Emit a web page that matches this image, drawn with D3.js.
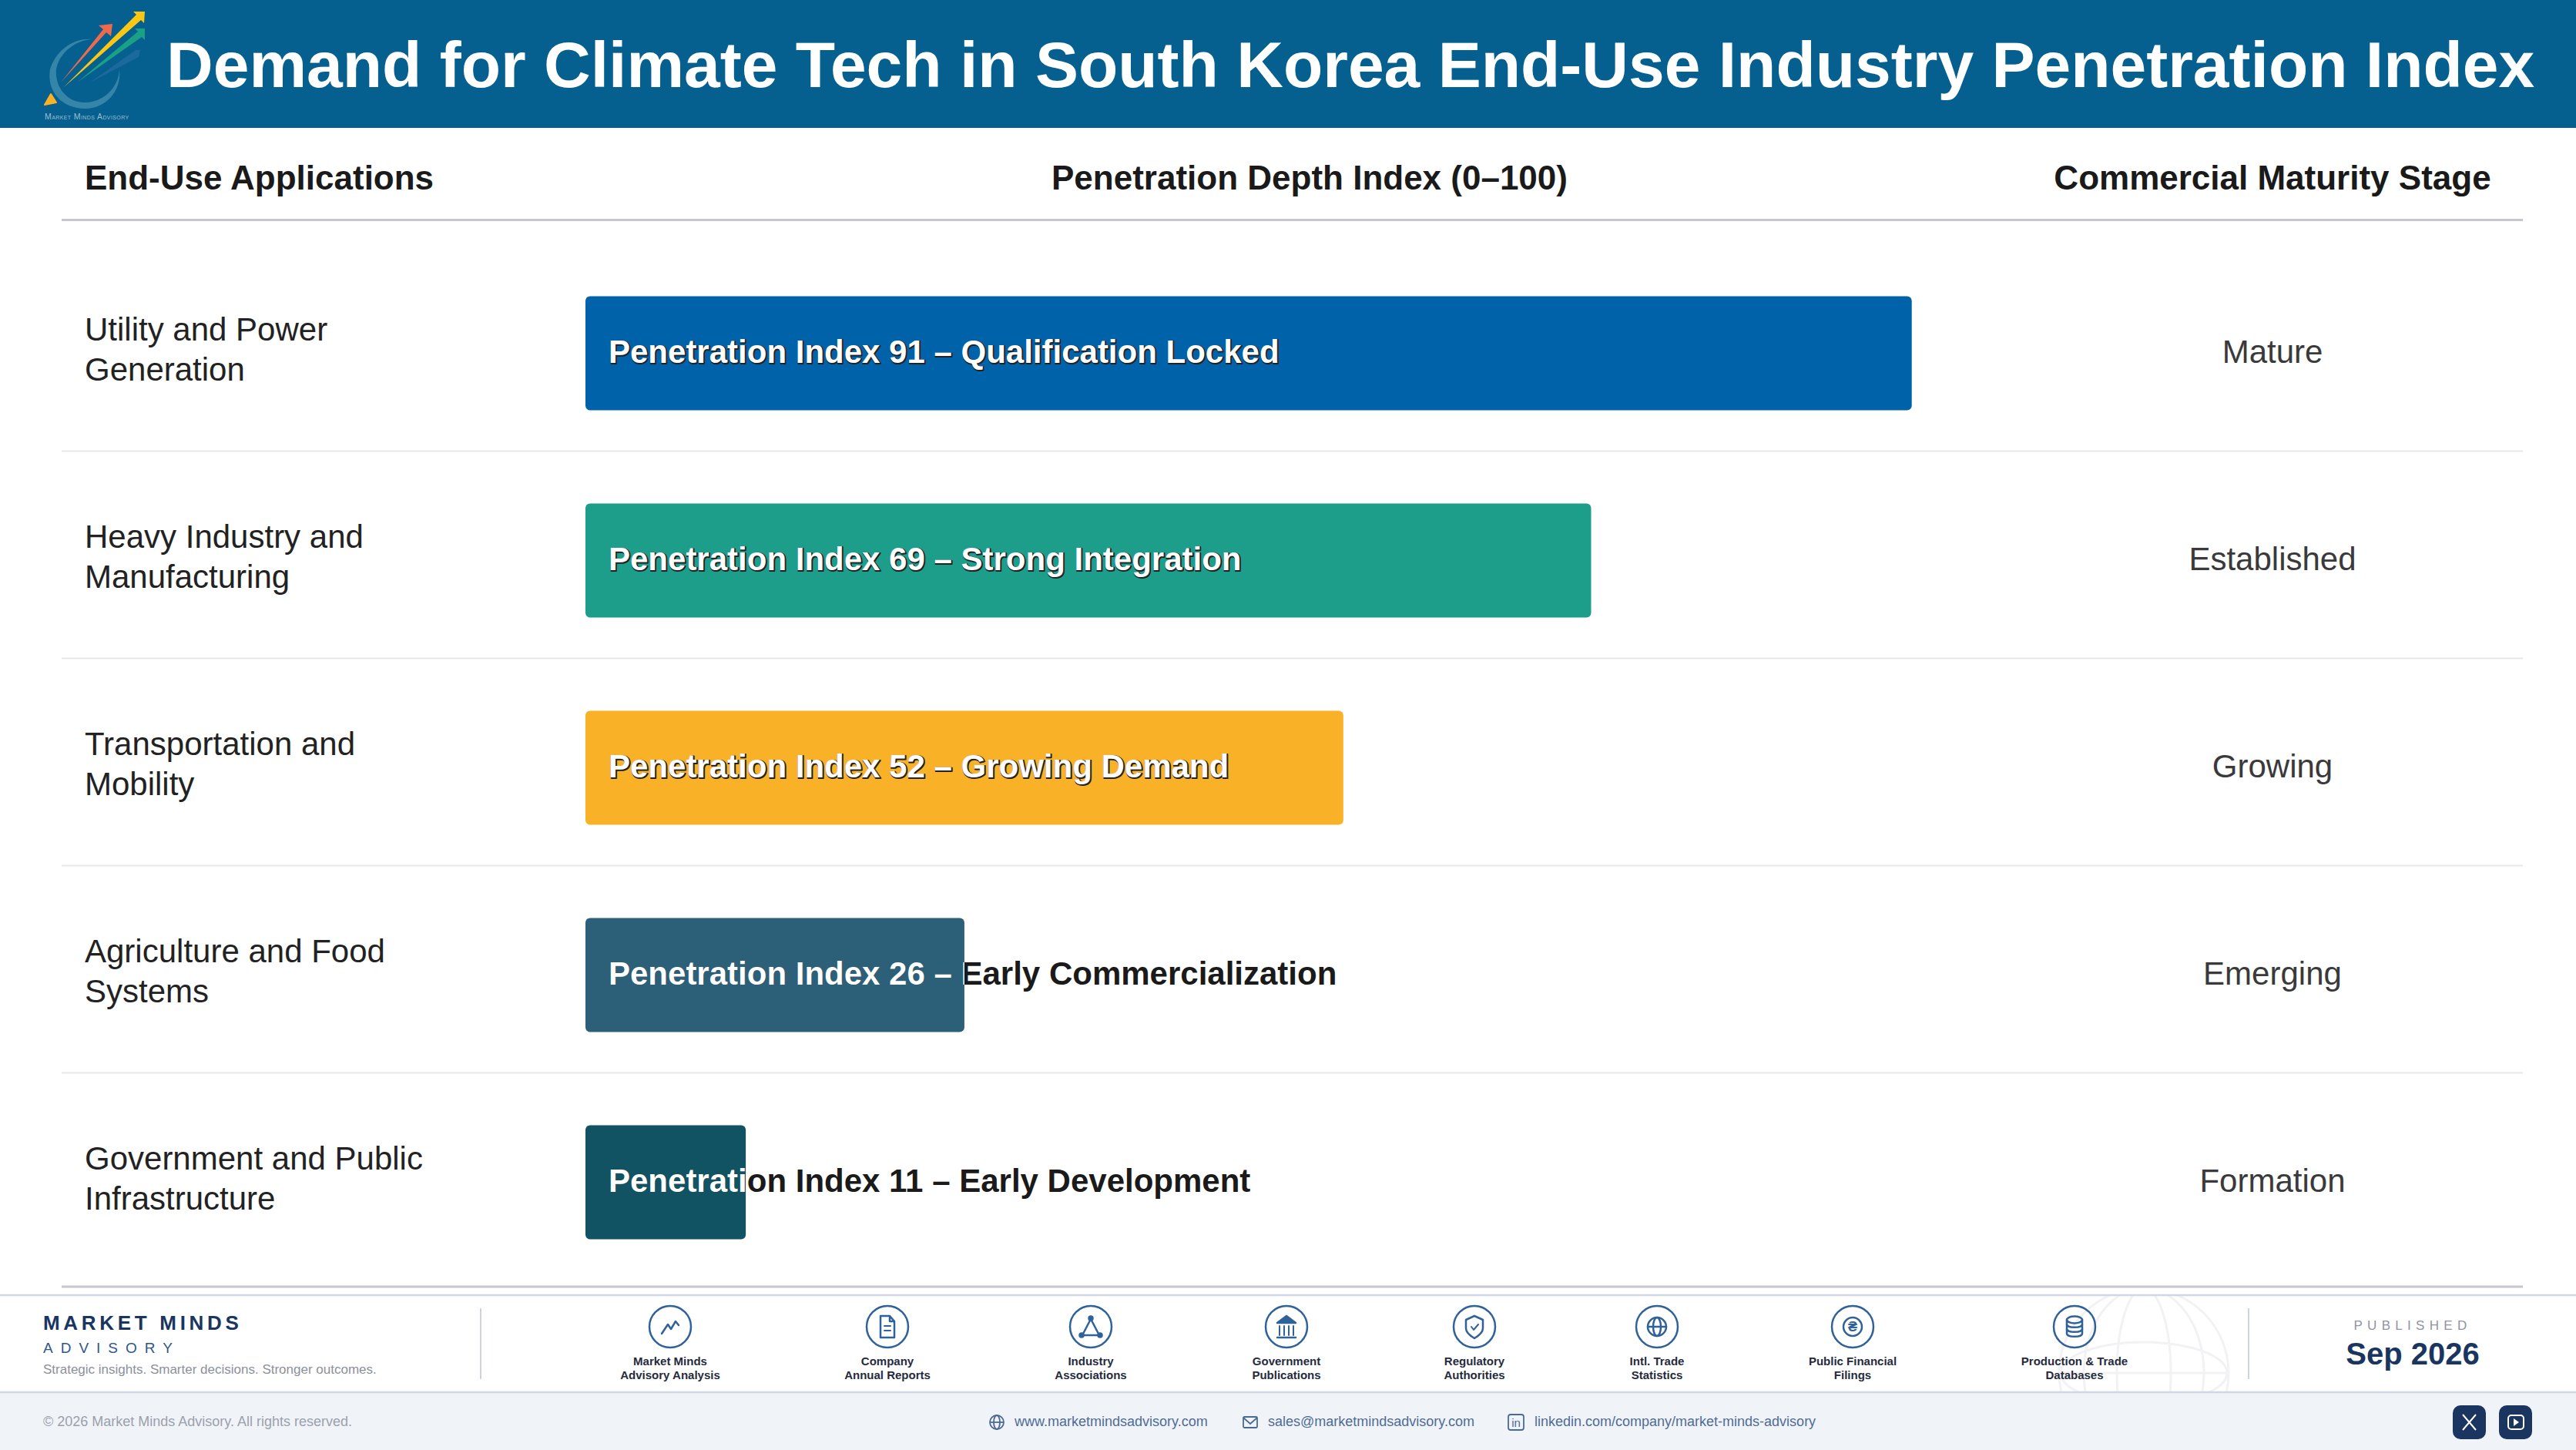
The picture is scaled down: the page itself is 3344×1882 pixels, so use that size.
<!DOCTYPE html>
<html>
<head>
<meta charset="utf-8">
<title>Demand for Climate Tech in South Korea</title>
<script src="https://cdn.jsdelivr.net/npm/d3@7"></script>
<style>
  html, body { margin: 0; padding: 0; background: #fff; }
  svg { display: block; }
  text { font-family: "Liberation Sans", Arial, sans-serif; }
</style>
</head>
<body>
<div id="chart"></div>
<script>
  'use strict';

  var chartTitle = 'Demand for Climate Tech in South Korea End-Use Industry Penetration Index';
  var columnHeads = ['End-Use Applications', 'Penetration Depth Index (0–100)', 'Commercial Maturity Stage'];

  var categories = [
    'Utility and Power Generation',
    'Heavy Industry and Manufacturing',
    'Transportation and Mobility',
    'Agriculture and Food Systems',
    'Government and Public Infrastructure'
  ];
  var indexValues = [91, 69, 52, 26, 11];
  var statusLabels = ['Qualification Locked', 'Strong Integration', 'Growing Demand', 'Early Commercialization', 'Early Development'];
  var stages = ['Mature', 'Established', 'Growing', 'Emerging', 'Formation'];

  var sources = [
    'Market Minds|Advisory Analysis',
    'Company|Annual Reports',
    'Industry|Associations',
    'Government|Publications',
    'Regulatory|Authorities',
    'Intl. Trade|Statistics',
    'Public Financial|Filings',
    'Production & Trade|Databases'
  ];
  var sourceIcons = ['trend', 'doc', 'network', 'bank', 'shield', 'globe', 'coin', 'db'];

  var width = 3344;
  var height = 1882;
  var navy = '#1a3560';
  var iconBlue = '#2f6298';

  var svg = d3.select('#chart').append('svg')
    .attr('width', width)
    .attr('height', height)
    .attr('viewBox', [0, 0, width, height]);

  var defs = svg.append('defs');

  // header band
  svg.append('rect').attr('width', width).attr('height', 166).attr('fill', '#05608f');
  svg.append('text')
    .attr('x', 216).attr('y', 113)
    .attr('font-size', 84).attr('font-weight', 700).attr('fill', '#fff')
    .text(chartTitle);

  drawLogo(svg.append('g'));

  // column heads
  var headX = [110, 1700, 2950];
  svg.append('g').selectAll('text').data(columnHeads).join('text')
    .attr('x', function (d, i) { return headX[i]; })
    .attr('y', 246)
    .attr('text-anchor', function (d, i) { return i ? 'middle' : 'start'; })
    .attr('font-size', 44).attr('font-weight', 700).attr('fill', '#1a1a1a')
    .text(function (d) { return d; });
  svg.append('line').attr('x1', 80).attr('x2', 3275).attr('y1', 285.5).attr('y2', 285.5)
    .attr('stroke', '#c6c6ce').attr('stroke-width', 3);

  // rows
  var x = d3.scaleLinear().domain([0, 100]).range([760, 2652]);
  var y = d3.scaleBand().domain(categories).range([324, 1669]).paddingInner(0.45).paddingOuter(0.225);
  var barFill = d3.scaleOrdinal().domain(categories).range(['#0063a9', '#1c9e8a', '#f9b128', '#2c5f78', '#115263']);

  var rowData = categories.map(function (c, i) {
    return { category: c, value: indexValues[i], status: statusLabels[i], stage: stages[i] };
  });

  svg.append('g').selectAll('line').data(categories.slice(0, -1)).join('line')
    .attr('x1', 80).attr('x2', 3275)
    .attr('y1', function (d) { return y(d) + y.bandwidth() + 53; })
    .attr('y2', function (d) { return y(d) + y.bandwidth() + 53; })
    .attr('stroke', '#e8e8ea').attr('stroke-width', 2);
  svg.append('line').attr('x1', 80).attr('x2', 3275).attr('y1', 1670).attr('y2', 1670)
    .attr('stroke', '#c6c6ce').attr('stroke-width', 3);

  var row = svg.append('g').selectAll('g').data(rowData).join('g');

  // category label, wrapped on width
  row.append('text')
    .attr('x', 110)
    .attr('y', function (d) { return y(d.category) + y.bandwidth() / 2 - 17; })
    .attr('font-size', 42).attr('fill', '#222')
    .each(function (d) { wrap(d3.select(this), d.category, 480, 52); });

  row.append('text')
    .attr('x', 2950)
    .attr('y', function (d) { return y(d.category) + y.bandwidth() / 2 + 12; })
    .attr('text-anchor', 'middle')
    .attr('font-size', 42).attr('fill', '#3a3a3a')
    .text(function (d) { return d.stage; });

  row.append('rect')
    .attr('x', x(0))
    .attr('y', function (d) { return y(d.category); })
    .attr('width', function (d) { return x(d.value) - x(0); })
    .attr('height', y.bandwidth())
    .attr('rx', 6)
    .attr('fill', function (d) { return barFill(d.category); });

  defs.selectAll('clipPath').data(rowData).join('clipPath')
    .attr('id', function (d, i) { return 'bar-clip-' + i; })
    .append('rect')
    .attr('x', x(0))
    .attr('y', function (d) { return y(d.category); })
    .attr('width', function (d) { return x(d.value) - x(0); })
    .attr('height', y.bandwidth());

  function barLabel(d) { return 'Penetration Index ' + d.value + ' – ' + d.status; }

  // dark copy underneath, white copy clipped to the bar
  var under = row.append('text')
    .attr('x', 790)
    .attr('y', function (d) { return y(d.category) + y.bandwidth() / 2 + 12; })
    .attr('font-size', 42).attr('font-weight', 700).attr('fill', '#1a1a1a')
    .text(barLabel);

  under.each(function (d) {
    d.fits = 30 + this.getComputedTextLength() < x(d.value) - x(0);
  });
  under.filter(function (d) { return d.fits; })
    .attr('transform', 'translate(1,1)')
    .attr('stroke', '#222').attr('stroke-width', 2).attr('stroke-linejoin', 'round');

  row.append('text')
    .attr('x', 790)
    .attr('y', function (d) { return y(d.category) + y.bandwidth() / 2 + 12; })
    .attr('font-size', 42).attr('font-weight', 700).attr('fill', '#fff')
    .attr('clip-path', function (d, i) { return 'url(#bar-clip-' + i + ')'; })
    .text(barLabel);

  drawFooter();

  function wrap(text, value, maxWidth, lineHeight) {
    var words = value.split(' ');
    var line = [];
    var tspan = text.append('tspan').attr('x', 110).attr('dy', 0);
    words.forEach(function (w) {
      line.push(w);
      tspan.text(line.join(' '));
      if (tspan.node().getComputedTextLength() > maxWidth && line.length > 1) {
        line.pop();
        tspan.text(line.join(' '));
        line = [w];
        tspan = text.append('tspan').attr('x', 110).attr('dy', lineHeight).text(w);
      }
    });
  }

  function drawLogo(g) {
    g.append('path')
      .attr('d', 'M120,51 C96,48 72,66 65,90 C60,120 82,141 110,141 C138,141 158,118 155,90 C154,114 134,133 110,133 C86,133 71,112 73,90 C77,68 98,52 120,51 Z')
      .attr('fill', '#3585a8');
    g.append('path').attr('d', 'M58,136 L66,122 L73,133 Z').attr('fill', '#f9b128').attr('stroke', '#f9b128').attr('stroke-width', 2).attr('stroke-linejoin', 'round');
    g.append('path').attr('d', 'M117,107 L176,65 L182,65 L180,74 Z').attr('fill', '#1a6b9c');
    g.append('path').attr('d', 'M100,107 L179,41 L175,37 L188,37 L188,52 L184,48 Z').attr('fill', '#1aa085');
    g.append('path').attr('d', 'M83,113 L177,19 L173,15 L188,15 L187,30 L183,26 Z').attr('fill', '#fbc715');
    g.append('path').attr('d', 'M79,107 L134,38 L128,33 L146,31 L144,47 L138,42 Z').attr('fill', '#ef6a4c');
    g.append('text').attr('x', 58).attr('y', 155)
      .attr('font-size', 10.5).attr('fill', '#9dbdd0').attr('letter-spacing', 0.4)
      .style('font-variant', 'small-caps')
      .text('Market Minds Advisory');
  }

  function drawFooter() {
    // watermark globe, clipped to the strip
    defs.append('clipPath').attr('id', 'strip-clip').append('rect')
      .attr('x', 0).attr('y', 1682).attr('width', width).attr('height', 124);
    var globe = svg.append('g').attr('clip-path', 'url(#strip-clip)')
      .attr('fill', 'none').attr('stroke', '#f2f2f4').attr('stroke-width', 3);
    globe.append('circle').attr('cx', 2783).attr('cy', 1782).attr('r', 110);
    [35, 78].forEach(function (rx) {
      globe.append('ellipse').attr('cx', 2783).attr('cy', 1782).attr('rx', rx).attr('ry', 110);
    });
    globe.append('ellipse').attr('cx', 2783).attr('cy', 1782).attr('rx', 108).attr('ry', 40);
    globe.append('line').attr('x1', 2673).attr('x2', 2893).attr('y1', 1782).attr('y2', 1782);

    svg.append('rect').attr('y', 1807).attr('width', width).attr('height', 75).attr('fill', '#f0f4f9');
    [1681, 1807].forEach(function (yy) {
      svg.append('line').attr('x1', 0).attr('x2', width).attr('y1', yy).attr('y2', yy)
        .attr('stroke', '#d2d5e4').attr('stroke-width', 2.5);
    });
    [624, 2919].forEach(function (xx) {
      svg.append('line').attr('x1', xx).attr('x2', xx).attr('y1', 1698).attr('y2', 1790)
        .attr('stroke', '#cfd3de').attr('stroke-width', 2);
    });

    svg.append('text').attr('x', 56).attr('y', 1726)
      .attr('font-size', 26).attr('font-weight', 700).attr('letter-spacing', 4.7).attr('fill', navy)
      .text('MARKET MINDS');
    svg.append('text').attr('x', 56).attr('y', 1756)
      .attr('font-size', 19).attr('letter-spacing', 10).attr('fill', '#2f5688')
      .text('ADVISORY');
    svg.append('text').attr('x', 56).attr('y', 1783)
      .attr('font-size', 17).attr('fill', '#8b909b')
      .text('Strategic insights. Smarter decisions. Stronger outcomes.');

    var sourceCx = [870, 1152, 1416, 1670, 1914, 2151, 2405, 2693];
    var item = svg.append('g').selectAll('g').data(sources).join('g')
      .attr('transform', function (d, i) { return 'translate(' + sourceCx[i] + ',1722)'; });
    item.append('circle').attr('r', 27).attr('fill', 'none').attr('stroke', iconBlue).attr('stroke-width', 2.5);
    item.each(function (d, i) { drawIcon(d3.select(this), sourceIcons[i]); });
    item.append('text').attr('text-anchor', 'middle').attr('font-size', 15)
      .attr('font-weight', 700).attr('fill', '#252b3d')
      .selectAll('tspan').data(function (d) { return d.split('|'); }).join('tspan')
      .attr('x', 0).attr('y', function (d, i) { return 50 + i * 18; })
      .text(function (d) { return d; });

    svg.append('text').attr('x', 3132).attr('y', 1726).attr('text-anchor', 'middle')
      .attr('font-size', 17).attr('letter-spacing', 6.3).attr('fill', '#8f93a3').text('PUBLISHED');
    svg.append('text').attr('x', 3132).attr('y', 1771).attr('text-anchor', 'middle')
      .attr('font-size', 40).attr('font-weight', 700).attr('fill', navy).text('Sep 2026');

    svg.append('text').attr('x', 56).attr('y', 1851)
      .attr('font-size', 18).attr('fill', '#9ba1ad')
      .text('© 2026 Market Minds Advisory. All rights reserved.');

    var contacts = [
      { icon: 'web', cx: 1294, tx: 1317, label: 'www.marketmindsadvisory.com' },
      { icon: 'mail', cx: 1623, tx: 1646, label: 'sales@marketmindsadvisory.com' },
      { icon: 'in', cx: 1968, tx: 1992, label: 'linkedin.com/company/market-minds-advisory' }
    ];
    contacts.forEach(function (c) {
      var g = svg.append('g').attr('transform', 'translate(' + c.cx + ',1846)')
        .attr('fill', 'none').attr('stroke', '#4a6a94').attr('stroke-width', 1.8);
      if (c.icon === 'web') {
        g.append('circle').attr('r', 9);
        g.append('ellipse').attr('rx', 4).attr('ry', 9);
        g.append('line').attr('x1', -9).attr('x2', 9);
      } else if (c.icon === 'mail') {
        g.append('rect').attr('x', -9).attr('y', -7).attr('width', 18).attr('height', 14).attr('rx', 1.5);
        g.append('path').attr('d', 'M-9,-6 L0,2 L9,-6');
      } else {
        g.append('rect').attr('x', -10).attr('y', -10).attr('width', 20).attr('height', 20).attr('rx', 3);
        g.append('text').attr('x', 0).attr('y', 6).attr('text-anchor', 'middle')
          .attr('font-size', 15).attr('stroke', 'none').attr('fill', '#4a6a94').text('in');
      }
      svg.append('text').attr('x', c.tx).attr('y', 1851)
        .attr('font-size', 18).attr('fill', '#4f6c96').text(c.label);
    });

    svg.append('rect').attr('x', 3184).attr('y', 1824).attr('width', 43).attr('height', 44).attr('rx', 10).attr('fill', navy);
    svg.append('rect').attr('x', 3244).attr('y', 1824).attr('width', 43).attr('height', 44).attr('rx', 10).attr('fill', navy);
    svg.append('path').attr('d', 'M3197,1836 L3214,1856 M3214,1836 L3197,1856')
      .attr('stroke', '#fff').attr('stroke-width', 2).attr('fill', 'none');
    svg.append('rect').attr('x', 3256).attr('y', 1837).attr('width', 20).attr('height', 18).attr('rx', 4)
      .attr('fill', 'none').attr('stroke', '#fff').attr('stroke-width', 2);
    svg.append('path').attr('d', 'M3263,1841 L3270,1846 L3263,1851 Z').attr('fill', '#fff');
  }

  function drawIcon(g, name) {
    var p = g.append('g').attr('fill', 'none').attr('stroke', iconBlue).attr('stroke-width', 2.5)
      .attr('stroke-linejoin', 'round').attr('stroke-linecap', 'round');
    if (name === 'trend') {
      p.append('path').attr('d', 'M-11,9 L-3,-3 L1,3 L7,-7 L11,-2');
    } else if (name === 'doc') {
      p.append('path').attr('d', 'M-9,-14 L3,-14 L9,-7 L9,14 L-9,14 Z M3,-14 L3,-7 L9,-7');
      p.append('path').attr('d', 'M-4,-1 L4,-1 M-4,5 L4,5').attr('stroke-width', 2);
    } else if (name === 'network') {
      p.append('path').attr('d', 'M0,-10 L-11,11 L11,11 Z');
      p.selectAll('circle').data([[0, -11], [-12, 11], [12, 11]]).join('circle')
        .attr('cx', function (d) { return d[0]; }).attr('cy', function (d) { return d[1]; })
        .attr('r', 2.5).attr('fill', iconBlue);
    } else if (name === 'bank') {
      p.append('path').attr('d', 'M0,-14 L-12,-5 L12,-5 Z').attr('fill', iconBlue);
      p.append('path').attr('d', 'M-9,-1 L-9,11 M-3,-1 L-3,11 M3,-1 L3,11 M9,-1 L9,11').attr('stroke-width', 2);
      p.append('path').attr('d', 'M-12,14 L12,14');
    } else if (name === 'shield') {
      p.append('path').attr('d', 'M0,-14 L11,-9 L11,2 C11,8 5,12 0,15 C-5,12 -11,8 -11,2 L-11,-9 Z');
      p.append('path').attr('d', 'M-4,0 L-1,4 L5,-3').attr('stroke-width', 2);
    } else if (name === 'globe') {
      p.append('circle').attr('r', 12);
      p.append('ellipse').attr('rx', 5).attr('ry', 12);
      p.append('line').attr('x1', -12).attr('x2', 12);
    } else if (name === 'coin') {
      p.append('circle').attr('r', 12);
      p.append('text').attr('y', 6).attr('text-anchor', 'middle').attr('font-size', 18).attr('font-weight', 700)
        .attr('stroke', 'none').attr('fill', iconBlue).text('₴');
    } else {
      p.append('path').attr('d', 'M-10,-9 L-10,9 C-10,14 10,14 10,9 L10,-9');
      p.append('ellipse').attr('cy', -9).attr('rx', 10).attr('ry', 4.5);
      p.append('path').attr('d', 'M-10,-3 C-10,2 10,2 10,-3 M-10,3 C-10,8 10,8 10,3');
    }
  }
</script>
</body>
</html>
